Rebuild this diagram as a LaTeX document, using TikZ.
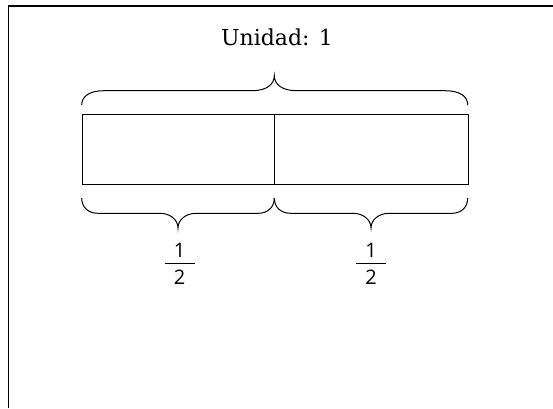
\documentclass[tikz,border=0pt]{standalone}
\usepackage{fontspec}
\setmainfont{DejaVu Serif}
\newfontfamily\fracfont{Open Sans}
\begin{document}
\begin{tikzpicture}[x=1pt,y=-1pt,
  frame/.style={line width=1.5pt},
  cell/.style={draw, line width=1.1pt, minimum height=70pt, inner sep=0pt, anchor=north west},
  brace/.style={draw, line width=1pt},
  digit/.style={font=\fracfont\fontsize{20}{20}\selectfont, inner sep=0pt, anchor=base},
  fracbar/.style={line width=1pt},
]
\useasboundingbox (0,0) rectangle (553,408);

% outer frame (runs off the right and bottom edges)
\draw[frame] (8.5,408) -- (8.5,6) -- (553,6);

% title
\node[anchor=base, inner sep=0pt, font=\fontsize{22}{22}\selectfont] (title) at (277,45) {Unidad: 1};

% the whole bar, split into two halves
\node[cell, minimum width=192.6pt] (h1) at (81.7,114.3) {};
\node[cell, minimum width=193.4pt] (h2) at (274.3,114.3) {};

% brace over the whole unit
\draw[brace] (81.7,105) .. controls (81.7,96) and (90,90.7) .. (104,90.7)
  -- (252,90.7) .. controls (267,90.7) and (274.3,84) .. (274.3,75.7)
  .. controls (274.3,84) and (281.6,90.7) .. (296.6,90.7)
  -- (445,90.7) .. controls (459.4,90.7) and (467.7,96) .. (467.7,105);

% braces under each half
\draw[brace] (81.7,198) .. controls (81.7,207) and (88,213.3) .. (98,213.3)
  -- (160,213.3) .. controls (170.5,213.3) and (178,220) .. (178,228)
  .. controls (178,220) and (185.5,213.3) .. (196,213.3)
  -- (258,213.3) .. controls (268,213.3) and (274.3,207) .. (274.3,198);
\draw[brace] (274.3,198) .. controls (274.3,207) and (280.6,213.3) .. (290.6,213.3)
  -- (353,213.3) .. controls (363.5,213.3) and (371,220) .. (371,228)
  .. controls (371,220) and (378.5,213.3) .. (389,213.3)
  -- (451.7,213.3) .. controls (461.7,213.3) and (467.7,207) .. (467.7,198);

% one half, twice
\node[digit] (n1) at (179.5,257.5) {1};
\node[digit] (d1) at (179.5,284.5) {2};
\draw[fracbar] (164.5,263.3) -- (194.5,263.3);
\node[digit] (n2) at (371,257.5) {1};
\node[digit] (d2) at (371,284.5) {2};
\draw[fracbar] (356,263.3) -- (386,263.3);
\end{tikzpicture}
\end{document}
